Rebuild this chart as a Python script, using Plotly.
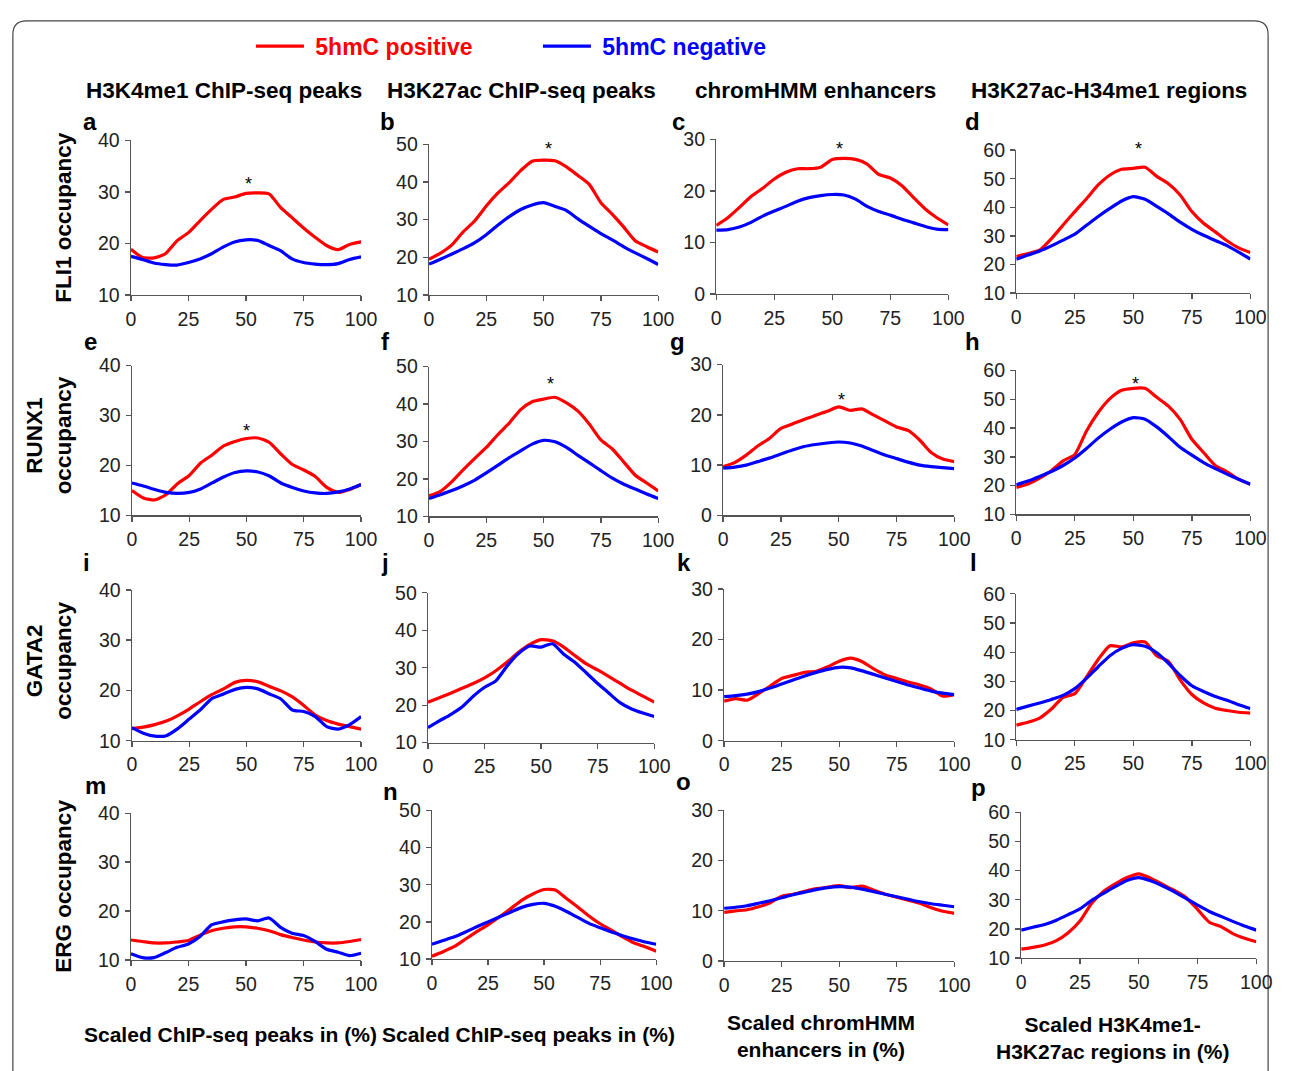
import plotly.graph_objects as go

# ---------------- data ----------------
X_PCT = [0, 5, 10, 15, 20, 25, 30, 35, 40, 45, 50, 55, 60, 65, 70, 75, 80, 85, 90, 95, 100]

# row 1: FLI1
A_POS = [18.9, 17.3, 17.2, 18.0, 20.5, 22.1, 24.4, 26.6, 28.5, 29.0, 29.7, 29.8, 29.6, 27.0, 25.0, 23.0, 21.2, 19.6, 18.8, 19.8, 20.3]
A_NEG = [17.5, 16.9, 16.2, 15.9, 15.8, 16.3, 17.0, 18.0, 19.3, 20.3, 20.7, 20.6, 19.6, 18.6, 17.0, 16.3, 16.0, 15.9, 16.1, 16.9, 17.4]
B_POS = [19.5, 21.1, 23.3, 26.8, 29.7, 33.6, 37.0, 39.8, 43.0, 45.5, 45.8, 45.6, 44.0, 41.7, 39.3, 34.5, 31.4, 28.0, 24.4, 22.8, 21.4]
B_NEG = [18.2, 19.5, 20.9, 22.3, 23.9, 26.0, 28.5, 30.8, 32.7, 33.9, 34.5, 33.5, 32.4, 30.2, 28.2, 26.3, 24.6, 22.8, 21.2, 19.7, 18.1]
C_POS = [13.3, 14.8, 16.8, 18.9, 20.5, 22.3, 23.6, 24.3, 24.3, 24.6, 26.1, 26.3, 26.1, 25.2, 23.2, 22.5, 21.0, 18.7, 16.5, 14.8, 13.4]
C_NEG = [12.4, 12.5, 13.0, 13.9, 15.1, 16.1, 17.0, 18.0, 18.7, 19.1, 19.3, 19.2, 18.4, 17.0, 16.0, 15.3, 14.5, 13.8, 13.1, 12.6, 12.5]
D_POS = [22.8, 23.8, 25.0, 29.0, 33.8, 38.5, 43.0, 47.8, 51.3, 53.3, 53.6, 54.0, 50.8, 48.2, 44.3, 38.5, 34.4, 31.4, 28.3, 25.8, 24.2]
D_NEG = [21.8, 23.3, 24.7, 26.5, 28.5, 30.6, 33.7, 36.8, 39.6, 42.2, 43.7, 42.8, 40.3, 37.7, 34.8, 32.3, 30.2, 28.4, 26.6, 24.3, 21.9]
# row 2: RUNX1
E_POS = [15.0, 13.5, 13.1, 14.2, 16.4, 18.0, 20.5, 22.1, 23.9, 24.8, 25.4, 25.5, 24.6, 22.3, 20.2, 19.1, 17.8, 15.6, 14.6, 15.2, 16.2]
E_NEG = [16.5, 15.9, 15.2, 14.6, 14.4, 14.6, 15.3, 16.5, 17.7, 18.6, 18.9, 18.7, 17.9, 16.5, 15.6, 14.9, 14.5, 14.4, 14.7, 15.3, 16.2]
F_POS = [15.5, 16.7, 19.3, 22.5, 25.5, 28.4, 31.8, 34.9, 38.5, 40.6, 41.3, 41.8, 40.3, 38.1, 34.6, 30.4, 28.0, 24.5, 21.0, 18.9, 16.8]
F_NEG = [14.8, 15.8, 16.9, 18.2, 19.7, 21.6, 23.6, 25.7, 27.5, 29.3, 30.3, 29.9, 28.4, 26.3, 24.3, 22.2, 20.2, 18.6, 17.3, 16.0, 14.8]
G_POS = [9.7, 10.5, 12.0, 13.8, 15.3, 17.3, 18.2, 19.1, 19.9, 20.7, 21.6, 20.9, 21.2, 20.0, 18.8, 17.6, 16.9, 15.0, 12.5, 11.2, 10.7]
G_NEG = [9.4, 9.6, 10.0, 10.7, 11.4, 12.2, 13.0, 13.7, 14.1, 14.4, 14.6, 14.4, 13.8, 12.9, 12.0, 11.3, 10.6, 10.0, 9.7, 9.5, 9.3]
H_POS = [19.4, 20.6, 22.6, 25.2, 28.6, 30.8, 39.0, 45.4, 50.2, 53.1, 53.8, 53.8, 50.7, 47.6, 43.0, 36.1, 31.5, 27.0, 24.8, 22.2, 20.5]
H_NEG = [20.3, 21.6, 23.2, 24.9, 27.0, 29.6, 32.9, 36.5, 39.6, 42.1, 43.6, 43.1, 40.4, 37.0, 33.3, 30.6, 28.0, 25.9, 24.0, 22.2, 20.5]
# row 3: GATA2
I_POS = [12.4, 12.7, 13.2, 13.9, 15.0, 16.3, 17.8, 19.2, 20.3, 21.6, 22.0, 21.7, 20.8, 19.9, 18.7, 17.0, 15.1, 14.0, 13.3, 12.8, 12.3]
I_NEG = [12.6, 11.5, 10.9, 11.0, 12.4, 14.3, 16.2, 18.4, 19.3, 20.2, 20.6, 20.3, 19.3, 18.3, 16.1, 15.8, 14.8, 12.8, 12.3, 13.2, 14.8]
J_POS = [20.8, 22.0, 23.2, 24.5, 25.8, 27.3, 29.2, 31.5, 34.1, 36.2, 37.5, 37.2, 35.5, 33.2, 31.0, 29.4, 27.6, 25.8, 24.0, 22.4, 20.8]
J_NEG = [14.0, 15.8, 17.5, 19.5, 22.4, 24.8, 26.5, 30.5, 33.8, 35.8, 35.5, 36.4, 33.6, 31.4, 28.6, 25.8, 23.2, 20.6, 19.0, 17.9, 17.0]
K_POS = [7.8, 8.3, 8.0, 9.3, 10.8, 12.3, 12.9, 13.5, 13.7, 14.6, 15.7, 16.3, 15.6, 14.2, 13.0, 12.3, 11.6, 11.0, 10.2, 8.8, 9.1]
K_NEG = [8.7, 8.9, 9.2, 9.7, 10.4, 11.2, 12.0, 12.8, 13.5, 14.1, 14.5, 14.4, 13.8, 13.1, 12.4, 11.7, 11.0, 10.4, 9.8, 9.4, 9.1]
L_POS = [15.0, 16.0, 17.4, 20.5, 24.5, 25.8, 31.5, 37.5, 42.2, 41.8, 43.2, 43.5, 38.8, 36.8, 30.5, 25.5, 22.6, 20.8, 20.0, 19.4, 19.1]
L_NEG = [20.4, 21.5, 22.6, 23.8, 25.2, 27.5, 31.0, 35.0, 38.8, 41.3, 42.6, 42.0, 39.8, 36.2, 32.0, 28.5, 26.5, 24.8, 23.5, 22.0, 20.7]
# row 4: ERG
M_POS = [14.1, 13.8, 13.5, 13.5, 13.7, 14.0, 15.1, 16.0, 16.5, 16.8, 16.8, 16.5, 16.0, 15.2, 14.6, 14.1, 13.7, 13.5, 13.5, 13.8, 14.2]
M_NEG = [11.3, 10.5, 10.5, 11.5, 12.6, 13.3, 14.8, 17.2, 17.8, 18.2, 18.4, 18.0, 18.6, 16.7, 15.5, 15.0, 13.8, 12.2, 11.6, 10.9, 11.4]
N_POS = [10.8, 12.0, 13.4, 15.4, 17.4, 19.2, 21.3, 23.5, 25.8, 27.5, 28.7, 28.6, 26.3, 24.0, 21.6, 19.5, 17.8, 16.0, 14.4, 13.3, 12.1]
N_NEG = [14.0, 15.0, 16.0, 17.3, 18.7, 20.0, 21.3, 22.6, 23.9, 24.7, 25.0, 24.2, 22.8, 21.2, 19.6, 18.4, 17.3, 16.3, 15.4, 14.6, 14.0]
O_POS = [9.7, 10.0, 10.2, 10.8, 11.6, 12.9, 13.3, 13.9, 14.4, 14.7, 15.0, 14.6, 14.9, 14.1, 13.3, 12.7, 12.1, 11.5, 10.6, 9.9, 9.5]
O_NEG = [10.5, 10.7, 11.0, 11.5, 12.0, 12.6, 13.2, 13.7, 14.2, 14.6, 14.8, 14.7, 14.3, 13.8, 13.3, 12.8, 12.3, 11.8, 11.4, 11.1, 10.8]
P_POS = [13.1, 13.7, 14.5, 16.0, 18.7, 22.7, 28.8, 32.8, 35.4, 37.6, 38.9, 37.4, 35.3, 33.3, 30.9, 26.7, 22.3, 20.8, 18.4, 16.8, 15.6]
P_NEG = [19.6, 20.6, 21.5, 23.0, 24.9, 26.9, 29.8, 32.2, 34.5, 36.6, 37.6, 36.5, 34.8, 32.8, 30.5, 28.2, 26.0, 24.3, 22.6, 21.0, 19.6]

SERIES_NAMES = ["5hmC positive", "5hmC negative"]
PANEL_LETTERS = ["a", "b", "c", "d", "e", "f", "g", "h", "i", "j", "k", "l", "m", "n", "o", "p"]
POS_SERIES = [A_POS, B_POS, C_POS, D_POS, E_POS, F_POS, G_POS, H_POS,
              I_POS, J_POS, K_POS, L_POS, M_POS, N_POS, O_POS, P_POS]
NEG_SERIES = [A_NEG, B_NEG, C_NEG, D_NEG, E_NEG, F_NEG, G_NEG, H_NEG,
              I_NEG, J_NEG, K_NEG, L_NEG, M_NEG, N_NEG, O_NEG, P_NEG]
COL_TITLES = ["H3K4me1 ChIP-seq peaks", "H3K27ac ChIP-seq peaks", "chromHMM enhancers", "H3K27ac-H34me1 regions"]
ROW_TITLES = ["FLI1 occupancy", "RUNX1<br>occupancy", "GATA2<br>occupancy", "ERG occupancy"]
X_TITLES = ["Scaled ChIP-seq peaks in (%)", "Scaled ChIP-seq peaks in (%)",
            "Scaled chromHMM<br>enhancers in (%)", "Scaled H3K4me1-<br>H3K27ac regions in (%)"]
Y_RANGES = [[10, 40], [10, 50], [0, 30], [10, 60]]
X_TICKS = [0, 25, 50, 75, 100]
# significance asterisks (panel, x, y in data units, must stay inside the axis range)
STAR_PANELS = ["a", "b", "c", "d", "e", "f", "g", "h"]
STAR_X = [51, 52, 53, 52, 50, 53, 51, 51]
STAR_Y = [32.2, 49.5, 28.7, 60.0, 27.6, 46.1, 23.6, 56.3]
STAR_SHIFT = [-3, -3, -3, 1, -3, -3, -3, -3]

# ---------------- layout (pixel geometry of the 1290x1071 picture) ----------------
W, H = 1290, 1071

PANEL_BOX = [
    (128, 362, 132, 290), (431, 664, 136, 290), (723, 959, 131, 289), (1028, 1266, 142, 288),
    (129, 362, 362, 515), (431, 664, 363, 516), (730, 965, 361, 515), (1028, 1266, 367, 514),
    (129, 362, 591, 745), (430, 660, 594, 747), (731, 965, 590, 745), (1028, 1266, 595, 744),
    (128, 362, 819, 969), (434, 662, 816, 968), (731, 965, 816, 970), (1033, 1272, 818, 967),
]
LETTER_POS = [(86, 113), (389, 113), (685, 113), (984, 113),
              (87, 337), (387, 337), (684, 337), (984, 337),
              (83, 563), (386, 563), (690, 563), (985, 563),
              (92, 791), (392, 797), (690, 787), (990, 793)]
COL_TITLE_X = [223, 525, 824, 1122]
ROW_TITLE_POS = [(60, 211), (45, 433), (45, 663), (60, 894)]
X_TITLE_POS = [(229, 1045), (532, 1045), (829, 1046), (1126, 1049)]

FONT = "Arial, 'Liberation Sans', sans-serif"
RED = "#ff0000"
BLUE = "#0000ff"
AXC = "#555555"
NBSP = "\u00a0"


def px(x):
    return x / W


def py(y):
    return 1 - y / H


fig = go.Figure()
layout = {}
annotations = []

for i in range(16):
    n = i + 1
    col = i % 4
    xa = "x" if n == 1 else f"x{n}"
    ya = "y" if n == 1 else f"y{n}"
    fig.add_trace(go.Scatter(
        x=X_PCT, y=POS_SERIES[i], mode="lines", xaxis=xa, yaxis=ya,
        line=dict(color=RED, width=3.2, shape="spline", smoothing=0.6),
        name=f"{NBSP}<b><span style='color:{RED}'>{SERIES_NAMES[0]}</span></b>",
        legendgroup="pos", showlegend=(i == 0), hoverinfo="skip"))
    fig.add_trace(go.Scatter(
        x=X_PCT, y=NEG_SERIES[i], mode="lines", xaxis=xa, yaxis=ya,
        line=dict(color=BLUE, width=3.2, shape="spline", smoothing=0.6),
        name=f"{NBSP}<b><span style='color:{BLUE}'>{SERIES_NAMES[1]}</span></b>",
        legendgroup="neg", showlegend=(i == 0), hoverinfo="skip"))

    x0, x1, yt, yb = PANEL_BOX[i]
    axis_common = dict(
        showgrid=False, zeroline=False, showline=True, linecolor=AXC, linewidth=1.3,
        ticks="outside", ticklen=5, tickwidth=1.3, tickcolor=AXC,
        tickfont=dict(family=FONT, size=19.5, color="#222222"), fixedrange=True,
    )
    layout["xaxis" if n == 1 else f"xaxis{n}"] = dict(
        axis_common, domain=[px(x0), px(x1)], anchor=ya,
        range=[0, 100], tickvals=X_TICKS, ticklabelstandoff=1)
    layout["yaxis" if n == 1 else f"yaxis{n}"] = dict(
        axis_common, domain=[py(yb), py(yt)], anchor=xa,
        range=Y_RANGES[col], dtick=10, ticklabelstandoff=1)

    lx, ly = LETTER_POS[i]
    annotations.append(dict(text=f"<b>{PANEL_LETTERS[i]}</b>", x=px(lx), y=py(ly), xref="paper", yref="paper",
                            showarrow=False, font=dict(family=FONT, size=24, color="black"),
                            xanchor="center", yanchor="middle"))

for k, letter in enumerate(STAR_PANELS):
    i = PANEL_LETTERS.index(letter)
    n = i + 1
    xa = "x" if n == 1 else f"x{n}"
    ya = "y" if n == 1 else f"y{n}"
    annotations.append(dict(text="*", x=STAR_X[k], y=STAR_Y[k], xref=xa, yref=ya,
                            showarrow=False, yshift=STAR_SHIFT[k],
                            font=dict(family=FONT, size=18, color="black"),
                            xanchor="center", yanchor="middle"))

for c in range(4):
    annotations.append(dict(text=f"<b>{COL_TITLES[c]}</b>", x=px(COL_TITLE_X[c]), y=py(81),
                            xref="paper", yref="paper", showarrow=False,
                            font=dict(family=FONT, size=22.5, color="black"),
                            xanchor="center", yanchor="middle"))
    tx, ty = X_TITLE_POS[c]
    annotations.append(dict(text=f"<b>{X_TITLES[c]}</b>", x=px(tx), y=py(ty),
                            xref="paper", yref="paper", showarrow=False,
                            font=dict(family=FONT, size=21, color="black"),
                            xanchor="center", yanchor="middle"))

for r in range(4):
    rx, ry = ROW_TITLE_POS[r]
    annotations.append(dict(text=f"<b>{ROW_TITLES[r]}</b>", x=px(rx), y=py(ry),
                            xref="paper", yref="paper", showarrow=False, textangle=-90,
                            font=dict(family=FONT, size=22.5, color="black"),
                            xanchor="center", yanchor="middle"))

# rounded frame
rx_, ry_ = 14 / W, 14 / H
xl, xr, yt_ = px(8), px(1284), py(10)
frame = (f"M {xl} -0.02 L {xl} {yt_ - ry_} Q {xl} {yt_} {xl + rx_} {yt_} "
         f"L {xr - rx_} {yt_} Q {xr} {yt_} {xr} {yt_ - ry_} L {xr} -0.02")

fig.update_layout(
    **layout,
    annotations=annotations,
    shapes=[dict(type="path", path=frame, xref="paper", yref="paper",
                 line=dict(color="#444444", width=1.2), layer="below")],
    width=W, height=H,
    margin=dict(l=0, r=0, t=0, b=0),
    paper_bgcolor="white", plot_bgcolor="white",
    font=dict(family=FONT, color="black"),
    showlegend=True,
    legend=dict(orientation="h", x=px(250), y=py(14), xanchor="left", yanchor="top",
                font=dict(family=FONT, size=23), entrywidth=224, entrywidthmode="pixels",
                itemwidth=48, bgcolor="rgba(0,0,0,0)", traceorder="normal"),
)

fig.write_html(
    "out.html", include_plotlyjs=True,
    config={"displayModeBar": False, "staticPlot": True},
    post_script=("document.documentElement.style.margin='0';document.body.style.margin='0';"
                 "document.documentElement.style.overflow='hidden';document.body.style.overflow='hidden';"),
)
